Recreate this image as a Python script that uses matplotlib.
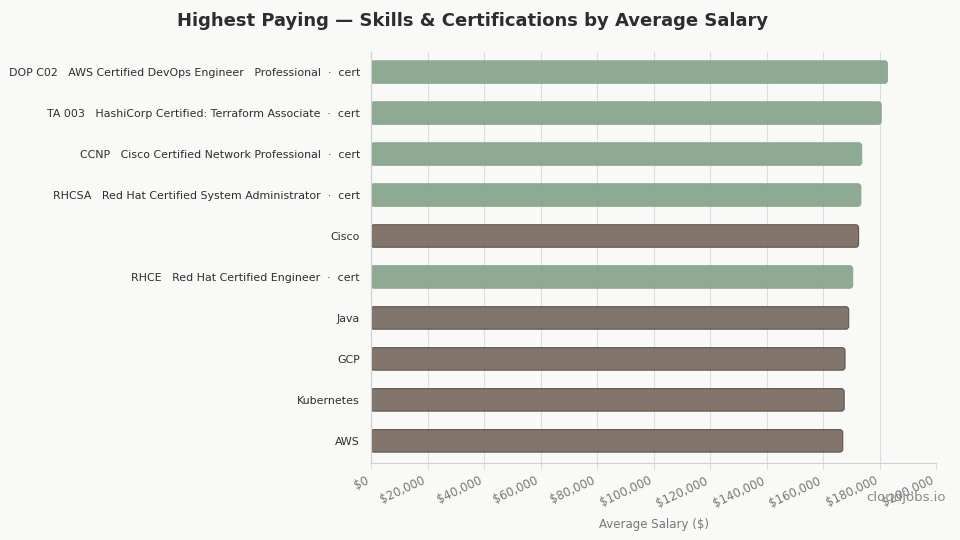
import matplotlib
matplotlib.use("Agg")
import matplotlib.pyplot as plt
from matplotlib.patches import FancyBboxPatch
from matplotlib.ticker import FuncFormatter

# data, top to bottom
labels = [
    "DOP C02   AWS Certified DevOps Engineer   Professional  \u00b7  cert",
    "TA 003   HashiCorp Certified: Terraform Associate  \u00b7  cert",
    "CCNP   Cisco Certified Network Professional  \u00b7  cert",
    "RHCSA   Red Hat Certified System Administrator  \u00b7  cert",
    "Cisco",
    "RHCE   Red Hat Certified Engineer  \u00b7  cert",
    "Java",
    "GCP",
    "Kubernetes",
    "AWS",
]
salaries = [182800, 180600, 173700, 173400, 172600, 170500, 169100, 167800, 167500, 167000]
kinds = ["cert", "cert", "cert", "cert", "skill", "cert", "skill", "skill", "skill", "skill"]
xticks = [0, 20000, 40000, 60000, 80000, 100000, 120000, 140000, 160000, 180000, 200000]

bg = "#f9f9f7"
colors = {"cert": "#83a288", "skill": "#75675d"}
edges = {"cert": "#8aa58f", "skill": "#5a4d45"}

fig = plt.figure(figsize=(9.6, 5.4), dpi=100, facecolor=bg)
ax = fig.add_axes([0.3865, 0.1426, 0.5885, 0.7611], facecolor=bg)

ax.set_xlim(0, 200000)
ax.set_ylim(len(labels) - 0.46, -0.49)

ax.set_axisbelow(True)
ax.grid(axis="x", color="#dddddd", linewidth=0.8)
ax.grid(axis="y", visible=False)

bar_h = 0.55
# px -> data units for rounded corners
px_x = 200000 / 565.0
px_y = (len(labels) + 0.03) / 411.0
r = 3
for i, (v, k) in enumerate(zip(salaries, kinds)):
    p = FancyBboxPatch((0, i - bar_h / 2), v, bar_h,
                       boxstyle="round,pad=0,rounding_size=%f" % (r * px_x),
                       mutation_aspect=px_y / px_x,
                       facecolor=colors[k], edgecolor=edges[k], linewidth=0.8,
                       alpha=0.9, zorder=2)
    ax.add_patch(p)

ax.set_yticks(range(len(labels)))
ax.set_yticklabels(labels, fontsize=7.9, color="#2d2d2d")
ax.tick_params(axis="y", length=0, pad=8)

ax.set_xticks(xticks)
ax.xaxis.set_major_formatter(FuncFormatter(lambda x, pos: "${:,.0f}".format(x)))
ax.tick_params(axis="x", colors="#dddddd", labelcolor="#777777", labelsize=8.5, length=4, pad=4)
plt.setp(ax.get_xticklabels(), rotation=25, ha="right")

for s in ["top", "right"]:
    ax.spines[s].set_visible(False)
for s in ["left", "bottom"]:
    ax.spines[s].set_color("#d0d0d0")

ax.set_xlabel("Average Salary ($)", fontsize=8.5, color="#777777", labelpad=6)
fig.suptitle("Highest Paying \u2014 Skills & Certifications by Average Salary",
             fontsize=13, fontweight="bold", color="#2d2d2d", x=0.492, y=0.977)

fig.text(0.985, 0.078, "cloudjobs.io", fontsize=9.5, color="#888888", ha="right", va="center")

fig.savefig("out.png", dpi=100, facecolor=bg)
